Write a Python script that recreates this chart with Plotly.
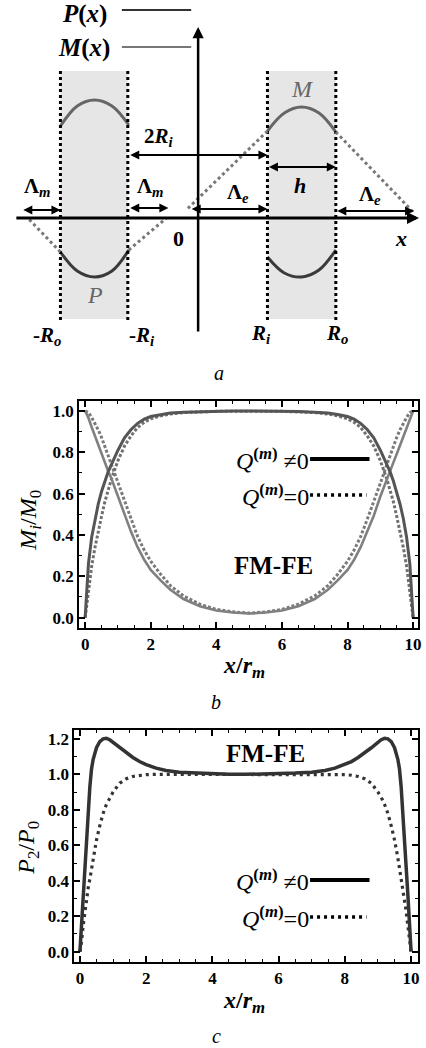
import plotly.graph_objects as go

W, H = 426, 1048
SERIF = "Liberation Serif, Times New Roman, DejaVu Serif, serif"

# ---------------- panel b data (magnetisation components) ----------------
x_b = [0, 0.1, 0.2, 0.3, 0.4, 0.5, 0.6, 0.7, 0.8, 1.0, 1.2, 1.4, 1.6, 1.8, 2.0, 2.3, 2.6, 3.0, 3.5, 4.0, 4.5, 5.0,
       5.5, 6.0, 6.5, 7.0, 7.4, 7.7, 8.0, 8.2, 8.4, 8.6, 8.8, 9.0, 9.2, 9.3, 9.4, 9.5, 9.6, 9.7, 9.8, 9.9, 10]
m2_q = [0.0, 0.26, 0.39, 0.48, 0.55, 0.61, 0.66, 0.705, 0.74, 0.81, 0.87, 0.91, 0.94, 0.96, 0.973, 0.983, 0.99, 0.994, 0.997, 0.999, 1.0, 1.0,
        1.0, 0.999, 0.997, 0.994, 0.99, 0.983, 0.973, 0.96, 0.94, 0.91, 0.87, 0.81, 0.74, 0.705, 0.66, 0.61, 0.55, 0.48, 0.39, 0.26, 0.0]
m1_q = [1.0, 0.966, 0.921, 0.877, 0.835, 0.792, 0.751, 0.709, 0.673, 0.586, 0.493, 0.415, 0.341, 0.28, 0.231, 0.18, 0.135, 0.09, 0.055, 0.035, 0.025, 0.02,
        0.025, 0.035, 0.055, 0.09, 0.135, 0.18, 0.231, 0.28, 0.341, 0.415, 0.493, 0.586, 0.673, 0.709, 0.751, 0.792, 0.835, 0.877, 0.921, 0.966, 1.0]
m2_0 = [0.0, 0.13, 0.25, 0.34, 0.42, 0.49, 0.56, 0.62, 0.67, 0.76, 0.83, 0.88, 0.92, 0.945, 0.962, 0.976, 0.985, 0.992, 0.996, 0.998, 0.999, 1.0,
        0.999, 0.998, 0.996, 0.992, 0.985, 0.976, 0.962, 0.945, 0.92, 0.88, 0.83, 0.76, 0.67, 0.62, 0.56, 0.49, 0.42, 0.34, 0.25, 0.13, 0.0]
m1_0 = [1.0, 0.992, 0.968, 0.94, 0.908, 0.872, 0.828, 0.785, 0.74, 0.65, 0.558, 0.475, 0.392, 0.327, 0.273, 0.21, 0.155, 0.105, 0.065, 0.04, 0.028, 0.022,
        0.028, 0.04, 0.065, 0.105, 0.155, 0.21, 0.273, 0.327, 0.392, 0.475, 0.558, 0.65, 0.74, 0.785, 0.828, 0.872, 0.908, 0.94, 0.968, 0.992, 1.0]

# ---------------- panel c data (polarisation) ----------------
x_c = [0, 0.05, 0.1, 0.15, 0.2, 0.25, 0.3, 0.35, 0.4, 0.5, 0.6, 0.7, 0.8, 0.9, 1.0, 1.2, 1.4, 1.6, 1.8, 2.0, 2.3, 2.6, 3.0, 3.5, 4.0, 4.5, 5.0,
       5.5, 6.0, 6.5, 7.0, 7.4, 7.7, 8.0, 8.2, 8.4, 8.6, 8.8, 9.0, 9.1, 9.2, 9.3, 9.4, 9.5, 9.6, 9.65, 9.7, 9.75, 9.8, 9.85, 9.9, 9.95, 10]
p2_q = [0.0, 0.17, 0.33, 0.48, 0.66, 0.80, 0.93, 1.03, 1.085, 1.15, 1.185, 1.2, 1.203, 1.195, 1.18, 1.15, 1.12, 1.095, 1.072, 1.055, 1.035, 1.022, 1.012, 1.007, 1.003, 1.001, 1.0,
        1.001, 1.003, 1.007, 1.012, 1.022, 1.035, 1.055, 1.072, 1.095, 1.12, 1.15, 1.18, 1.195, 1.203, 1.2, 1.185, 1.15, 1.085, 1.03, 0.93, 0.80, 0.66, 0.48, 0.33, 0.17, 0.0]
p2_0 = [0.0, 0.06, 0.15, 0.23, 0.30, 0.36, 0.41, 0.47, 0.53, 0.63, 0.71, 0.78, 0.83, 0.87, 0.90, 0.95, 0.975, 0.988, 0.995, 0.998, 1.0, 1.0, 1.0, 1.0, 1.0, 1.0, 1.0,
        1.0, 1.0, 1.0, 1.0, 1.0, 1.0, 0.998, 0.995, 0.988, 0.975, 0.95, 0.90, 0.87, 0.83, 0.78, 0.71, 0.63, 0.53, 0.47, 0.41, 0.36, 0.30, 0.23, 0.15, 0.06, 0.0]

# ---------------- panel a (schematic) data ----------------
R_i, R_o = 70, 139
arc_x_left = [-139, -122, -104.5, -87, -70]
arc_x_right = [70, 87, 104.5, 122, 139]
M_left = [92, 112, 118, 112, 93]
P_left = [-34, -53, -59, -53, -32]
M_right = [87, 105, 111, 105, 86]
P_right = [-39, -55, -59, -52, -32]
# extrapolation (dotted) segments: (x0, y0, x1, y1)
extrap = [(-139, -34, -172, 0), (-70, -32, -32, 0), (70, 87, -12, 8), (139, 86, 218, 5)]
# double arrows: (x0, x1, y)
dbl_arrows = [(-70, 70, 63), (70, 139, 51), (-178, -139, 8), (-70, -30, 10), (-8, 70, 9), (139, 218, 7)]

fig = go.Figure()

# panel b curves
fig.add_trace(go.Scatter(x=x_b, y=m1_0, mode="lines", line=dict(color="#7a7a7a", width=3, dash="3px,2px"), xaxis="x", yaxis="y"))
fig.add_trace(go.Scatter(x=x_b, y=m2_0, mode="lines", line=dict(color="#707070", width=3, dash="3px,2px"), xaxis="x", yaxis="y"))
fig.add_trace(go.Scatter(x=x_b, y=m1_q, mode="lines", line=dict(color="#808080", width=2.6), xaxis="x", yaxis="y"))
fig.add_trace(go.Scatter(x=x_b, y=m2_q, mode="lines", line=dict(color="#555555", width=3), xaxis="x", yaxis="y"))

# panel c curves
fig.add_trace(go.Scatter(x=x_c, y=p2_0, mode="lines", line=dict(color="#333333", width=3.2, dash="3px,4px"), xaxis="x2", yaxis="y2"))
fig.add_trace(go.Scatter(x=x_c, y=p2_q, mode="lines", line=dict(color="#333333", width=3.5), xaxis="x2", yaxis="y2"))

# schematic: shaded layers
shapes = []
for (xa, xb_) in [(-R_o, -R_i - 1), (R_i, R_o)]:
    shapes.append(dict(type="rect", xref="x3", yref="y3", x0=xa, x1=xb_, y0=-101, y1=147,
                       fillcolor="#e6e6e6", line=dict(width=0), layer="below"))
for xv in [-R_o, -R_i - 1, R_i, R_o]:
    shapes.append(dict(type="line", xref="x3", yref="y3", x0=xv, x1=xv, y0=-102, y1=148,
                       line=dict(color="black", width=3, dash="dot")))
for (x0, y0, x1, y1) in extrap:
    shapes.append(dict(type="line", xref="x3", yref="y3", x0=x0, y0=y0, x1=x1, y1=y1,
                       line=dict(color="#777777", width=3, dash="dot")))
# legend-like lines in schematic header
shapes.append(dict(type="line", xref="x3", yref="y3", x0=-77, x1=-7, y0=208, y1=208, line=dict(color="#333333", width=2)))
shapes.append(dict(type="line", xref="x3", yref="y3", x0=-77, x1=-7, y0=171, y1=171, line=dict(color="#777777", width=2)))

# schematic arcs
fig.add_trace(go.Scatter(x=arc_x_left, y=M_left, mode="lines", line=dict(color="#666666", width=3, shape="spline"), xaxis="x3", yaxis="y3"))
fig.add_trace(go.Scatter(x=arc_x_right, y=M_right, mode="lines", line=dict(color="#666666", width=3, shape="spline"), xaxis="x3", yaxis="y3"))
fig.add_trace(go.Scatter(x=arc_x_left, y=P_left, mode="lines", line=dict(color="#3a3a3a", width=3, shape="spline"), xaxis="x3", yaxis="y3"))
fig.add_trace(go.Scatter(x=arc_x_right, y=P_right, mode="lines", line=dict(color="#3a3a3a", width=3, shape="spline"), xaxis="x3", yaxis="y3"))

ann = []
# schematic axes (arrows)
ann.append(dict(xref="x3", yref="y3", axref="x3", ayref="y3", x=223, y=0, ax=-185, ay=0, text="", showarrow=True,
                arrowhead=2, arrowsize=0.8, arrowwidth=3, arrowcolor="black", standoff=0, startstandoff=0))
ann.append(dict(xref="x3", yref="y3", axref="x3", ayref="y3", x=0, y=191, ax=0, ay=-115, text="", showarrow=True,
                arrowhead=2, arrowsize=0.9, arrowwidth=2.5, arrowcolor="black", standoff=0, startstandoff=0))
for (x0, x1, yv) in dbl_arrows:
    ann.append(dict(xref="x3", yref="y3", axref="x3", ayref="y3", x=x1, y=yv, ax=x0, ay=yv, text="", showarrow=True,
                    arrowhead=2, startarrowhead=2, arrowside="end+start", arrowsize=1, startarrowsize=1,
                    arrowwidth=1.8, arrowcolor="black", standoff=0, startstandoff=0))


def stxt(x, y, text, size=22, color="black"):
    ann.append(dict(xref="x3", yref="y3", x=x, y=y, text=text, showarrow=False,
                    font=dict(family=SERIF, size=size, color=color), xanchor="center", yanchor="middle"))


stxt(-115, 204, "<b><i>P</i>(<i>x</i>)</b>", 25)
stxt(-115, 170, "<b><i>M</i>(<i>x</i>)</b>", 25)
stxt(-40, 81, "<b>2<i>R</i><sub><i>i</i></sub></b>", 21)
stxt(103, 33, "<b><i>h</i></b>", 22)
stxt(-162, 31, "<b>Λ<sub><i>m</i></sub></b>", 21)
stxt(-48, 31, "<b>Λ<sub><i>m</i></sub></b>", 21)
stxt(40, 25, "<b>Λ<sub><i>e</i></sub></b>", 21)
stxt(173, 23, "<b>Λ<sub><i>e</i></sub></b>", 21)
stxt(-20, -20, "<b>0</b>", 22)
stxt(205, -20, "<b><i>x</i></b>", 22)
stxt(105, 129, "<i>M</i>", 24, "#666666")
stxt(-104, -77, "<i>P</i>", 24, "#666666")
stxt(-153, -118, "<b>-<i>R</i><sub><i>o</i></sub></b>", 21)
stxt(-57, -118, "<b>-<i>R</i><sub><i>i</i></sub></b>", 21)
stxt(63, -116, "<b><i>R</i><sub><i>i</i></sub></b>", 21)
stxt(140, -116, "<b><i>R</i><sub><i>o</i></sub></b>", 21)


def ptxt(xp, yp, text, size, xanchor="center", textangle=0, color="black"):
    ann.append(dict(xref="paper", yref="paper", x=xp / W, y=1 - yp / H, text=text, showarrow=False,
                    font=dict(family=SERIF, size=size, color=color), xanchor=xanchor, yanchor="middle",
                    textangle=textangle))


# panel captions
ptxt(221, 373, "<i>a</i>", 20)
ptxt(218, 702, "<i>b</i>", 20)
ptxt(219, 1036, "<i>c</i>", 20)

# axis titles
ptxt(30, 520, "<i>M</i><sub><i>i</i></sub>/<i>M</i><sub>0</sub>", 24, textangle=-90)
ptxt(246, 667, "<b><i>x</i>/<i>r</i><sub><i>m</i></sub></b>", 24)
ptxt(28, 848, "<i>P</i><sub>2</sub>/<i>P</i><sub>0</sub>", 24, textangle=-90)
ptxt(246, 1002, "<b><i>x</i>/<i>r</i><sub><i>m</i></sub></b>", 24)

# in-plot texts
ptxt(276, 565, "<b>FM-FE</b>", 25)
ptxt(268, 753, "<b>FM-FE</b>", 25)

Q_ne = "<i>Q</i><sup><b>(<i>m</i>)</b></sup> ≠0"
Q_eq = "<i>Q</i><sup><b>(<i>m</i>)</b></sup>=0"
for (y_ne, y_eq) in [(459, 495), (880, 917)]:
    ptxt(314, y_ne, Q_ne, 24, xanchor="right")
    ptxt(314, y_eq, Q_eq, 24, xanchor="right")
    shapes.append(dict(type="line", xref="paper", yref="paper", x0=313 / W, x1=373 / W,
                       y0=1 - y_ne / H, y1=1 - y_ne / H, line=dict(color="black", width=4)))
    shapes.append(dict(type="line", xref="paper", yref="paper", x0=313 / W, x1=370 / W,
                       y0=1 - y_eq / H, y1=1 - y_eq / H, line=dict(color="black", width=3.5, dash="3px,4px")))

tickfont = dict(family=SERIF, size=17, color="black", weight="bold")
common = dict(showline=True, linecolor="black", linewidth=2, mirror="allticks", ticks="inside",
              ticklen=6, tickwidth=1.5, tickcolor="black", showgrid=False, zeroline=False,
              tickfont=tickfont)

fig.update_layout(
    width=W, height=H, margin=dict(l=0, r=0, t=0, b=0), showlegend=False,
    paper_bgcolor="white", plot_bgcolor="rgba(0,0,0,0)",
    font=dict(family=SERIF),
    xaxis=dict(domain=[80 / W, 422 / W], range=[-0.18, 10.15], anchor="y", dtick=2, tickformat="d",
               minor=dict(ticks="inside", ticklen=3, dtick=0.5, tickcolor="black", tickwidth=1), **common),
    yaxis=dict(domain=[(H - 628) / H, (H - 401) / H], range=[-0.05, 1.048], anchor="x", dtick=0.2, tickformat=".1f",
               minor=dict(ticks="inside", ticklen=3, dtick=0.1, tickcolor="black", tickwidth=1), **common),
    xaxis2=dict(domain=[75 / W, 422 / W], range=[-0.17, 10.21], anchor="y2", dtick=2, tickformat="d",
                minor=dict(ticks="inside", ticklen=3, dtick=0.5, tickcolor="black", tickwidth=1), **common),
    yaxis2=dict(domain=[(H - 962) / H, (H - 730) / H], range=[-0.058, 1.25], anchor="x2", dtick=0.2, tickformat=".1f",
                minor=dict(ticks="inside", ticklen=3, dtick=0.1, tickcolor="black", tickwidth=1), **common),
    xaxis3=dict(domain=[0, 1], range=[-200, 226], anchor="y3", visible=False, fixedrange=True),
    yaxis3=dict(domain=[(H - 350) / H, 1], range=[-132, 218], anchor="x3", visible=False, fixedrange=True),
    shapes=shapes, annotations=ann,
)

fig.write_html("out.html", config={"displayModeBar": False},
               post_script="document.body.style.margin='0';document.body.style.overflow='hidden';")
